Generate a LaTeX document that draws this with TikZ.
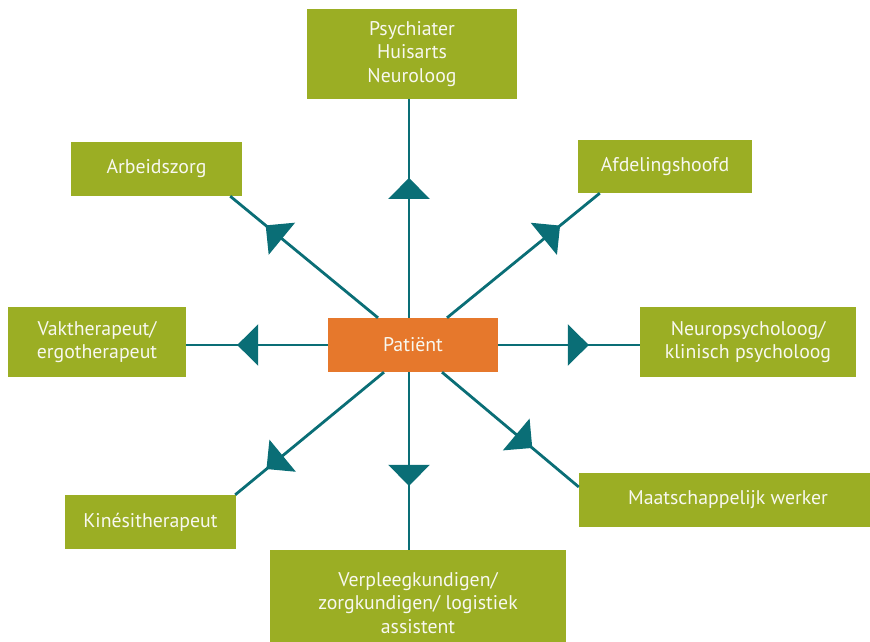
\documentclass[tikz,border=0pt]{standalone}
\usepackage{fontspec}
\setmainfont{PT Sans}
\usetikzlibrary{calc,arrows.meta,decorations.markings}
\definecolor{boxgreen}{RGB}{155,174,36}
\definecolor{patorange}{RGB}{230,120,44}
\definecolor{linkteal}{RGB}{10,110,118}
\definecolor{txtwhite}{RGB}{248,248,240}

\begin{document}
\begin{tikzpicture}[x=1pt,y=-1pt,
    box/.style={rectangle,fill=boxgreen,text=txtwhite,align=center,inner sep=0pt,
      font=\fontsize{19.8}{23.5}\selectfont},
    link/.style={draw=linkteal,line width=2.8pt,postaction={decorate},
      decoration={markings,mark=at position #1 with
        {\arrow[linkteal]{Triangle[length=21pt,width=41pt]}}}},
    link/.default=0.64]

  \useasboundingbox (0,0) rectangle (870,642);

  % centre
  \node[box,fill=patorange,minimum width=170pt,minimum height=54pt] (pat) at (413,345) {Patiënt};

  % disciplines round the patient
  \node[box,minimum width=210pt,minimum height=90pt] (psy) at (412,54) {Psychiater\\Huisarts\\Neuroloog};
  \node[box,minimum width=171pt,minimum height=54pt] (arb) at (156.5,169) {Arbeidszorg};
  \node[box,minimum width=174pt,minimum height=53pt] (afd) at (665,166.5) {Afdelingshoofd};
  \node[box,minimum width=178pt,minimum height=70pt] (vak) at (97,342) {Vaktherapeut/\\ergotherapeut};
  \node[box,minimum width=216pt,minimum height=70pt] (neu) at (748,342) {Neuropsycholoog/\\klinisch psycholoog};
  \node[box,minimum width=171pt,minimum height=54pt] (kin) at (150.5,522) {Kinésitherapeut};
  \node[box,minimum width=298pt,minimum height=54pt] (maat) at (728,500) {Maatschappelijk werker};
  \node[box,minimum width=296pt,minimum height=106pt] (ver) at (418,603) {Verpleegkundigen/\\zorgkundigen/ logistiek\\assistent};

  % links
  \draw[link] ([xshift=-4pt]pat.north) -- ([xshift=-3pt]psy.south);
  \draw[link] ([xshift=-4pt]pat.south) -- ([xshift=-9pt]ver.north);
  \draw[link] (pat.west) -- (pat.west -| vak.east);
  \draw[link] (pat.east) -- (pat.east -| neu.west);
  \draw[link=0.76] ([xshift=-35pt]pat.north) -- ([xshift=-12pt]arb.south east);
  \draw[link=0.74] ([xshift=34pt]pat.north) -- ([xshift=22pt]afd.south west);
  \draw[link=0.79] ([xshift=-29pt]pat.south) -- ([xshift=-1pt]kin.north east);
  \draw[link=0.66] ([xshift=29pt]pat.south) -- ([yshift=13pt]maat.west);
\end{tikzpicture}
\end{document}
